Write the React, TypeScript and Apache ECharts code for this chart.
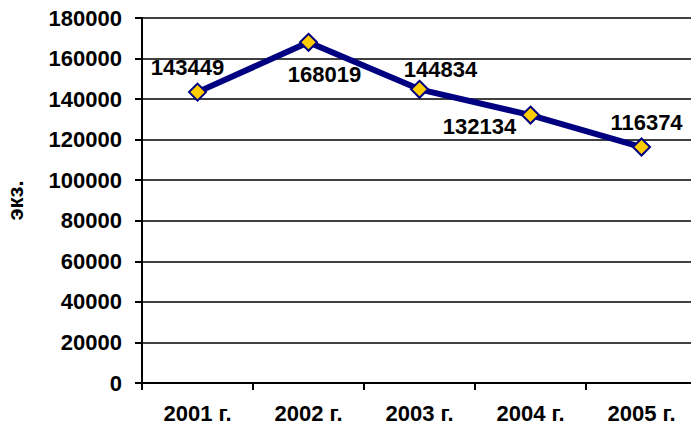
import React, { useEffect, useRef } from "react";
import * as echarts from "echarts";

const categories = ["2001 г.", "2002 г.", "2003 г.", "2004 г.", "2005 г."];
const values = [143449, 168019, 144834, 132134, 116374];
const labelOffsets: number[][] = [[-10, -25], [16, 32], [21, -20], [-51, 11], [5, -25]];

export default function App() {
  const ref = useRef<HTMLDivElement>(null);
  useEffect(() => {
    const chart = echarts.init(ref.current!, undefined, { renderer: "svg" });
    const font = "Arial, 'Liberation Sans', sans-serif";
    chart.setOption({
      animation: false,
      grid: { left: 142, right: -6, top: 18, bottom: 44, containLabel: false, outerBoundsMode: "none" },
      xAxis: {
        type: "category",
        data: categories,
        boundaryGap: true,
        axisLine: { lineStyle: { color: "#000", width: 2 } },
        axisTick: { show: true, length: 7, lineStyle: { color: "#000", width: 2 } },
        axisLabel: { color: "#000", fontWeight: "bold", fontSize: 22, fontFamily: font, margin: 19 },
        splitLine: { show: false },
      },
      yAxis: {
        type: "value",
        min: 0,
        max: 180000,
        interval: 20000,
        name: "экз.",
        nameLocation: "middle",
        nameGap: 116,
        nameRotate: 90,
        nameTextStyle: { color: "#000", fontWeight: "bold", fontSize: 22, fontFamily: font },
        axisLine: { show: true, lineStyle: { color: "#000", width: 2 } },
        axisTick: { show: true, length: 7, lineStyle: { color: "#000", width: 2 } },
        axisLabel: {
          color: "#000",
          fontWeight: "bold",
          fontSize: 22,
          fontFamily: font,
          margin: 20,
          formatter: (v: number) => String(v),
        },
        splitLine: { show: true, lineStyle: { color: "#000", width: 1.5 } },
      },
      series: [
        {
          type: "line",
          data: values.map((v, i) => ({
            value: v,
            label: { offset: labelOffsets[i] },
          })),
          lineStyle: { color: "#000080", width: 6 },
          symbol: "diamond",
          symbolSize: 17,
          itemStyle: { color: "#FFCC00", borderColor: "#000080", borderWidth: 2 },
          label: {
            show: true,
            position: "inside",
            color: "#000",
            fontWeight: "bold",
            fontSize: 22,
            fontFamily: font,
          },
        },
      ],
    });
    return () => chart.dispose();
  }, []);
  return <div ref={ref} style={{ width: 691, height: 427, position: "absolute", left: 0, top: 0 }} />;
}
